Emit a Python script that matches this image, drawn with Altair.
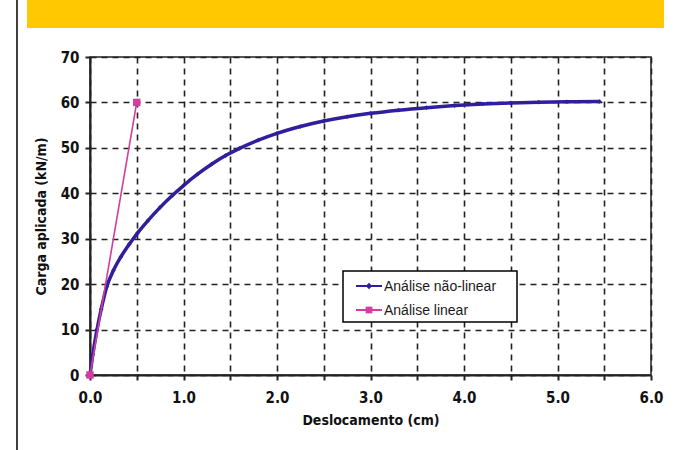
import altair as alt
import pandas as pd

# Non-linear analysis
nl_x = [0, 0.03, 0.075, 0.12, 0.18, 0.25, 0.33, 0.42, 0.51, 0.62, 0.75, 0.88, 1.00,
        1.15, 1.30, 1.45, 1.60, 1.80, 2.00, 2.25, 2.50, 2.75, 3.00, 3.30, 3.60,
        3.90, 4.20, 4.50, 4.80, 5.10, 5.45]
nl_y = [0, 4.5, 10, 14.5, 19.5, 23, 26, 28.8, 31.3, 34.0, 36.9, 39.5, 41.7,
        44.2, 46.4, 48.3, 49.9, 51.7, 53.2, 54.7, 55.9, 56.85, 57.6, 58.3, 58.85,
        59.3, 59.65, 59.9, 60.05, 60.15, 60.2]
# Linear analysis
lin_x = [0.0, 0.5]
lin_y = [0.0, 60.0]

series = ["Análise não-linear", "Análise linear"]
colors = ["#2f1f9c", "#d43c9f"]
x_ticks = [i * 0.5 for i in range(13)]
y_ticks = [i * 10 for i in range(8)]

FONT = "Liberation Sans Narrow, DejaVu Sans Condensed, sans-serif"

nl = pd.DataFrame({"x": nl_x, "y": nl_y})
lin = pd.DataFrame({"x": lin_x, "y": lin_y})

xs = alt.Scale(domain=[0, 6], nice=False)
ys = alt.Scale(domain=[0, 70], nice=False)

xaxis = alt.Axis(values=x_ticks, title="Deslocamento (cm)",
                 labelExpr="datum.value % 1 == 0 ? format(datum.value, '.1f') : ''")
yaxis = alt.Axis(values=y_ticks, title="Carga aplicada (kN/m)")

nl_line = alt.Chart(nl).mark_line(color=colors[0], strokeWidth=3.5, interpolate="monotone").encode(
    x=alt.X("x:Q", scale=xs, axis=xaxis),
    y=alt.Y("y:Q", scale=ys, axis=yaxis),
)
nl_pts = alt.Chart(nl).mark_point(shape="diamond", filled=True, color=colors[0], size=22, opacity=1).encode(
    x=alt.X("x:Q", scale=xs), y=alt.Y("y:Q", scale=ys))
lin_line = alt.Chart(lin).mark_line(color=colors[1], strokeWidth=1.6).encode(
    x=alt.X("x:Q", scale=xs), y=alt.Y("y:Q", scale=ys))
lin_pts = alt.Chart(lin).mark_point(shape="square", filled=True, color=colors[1], size=55, opacity=1).encode(
    x=alt.X("x:Q", scale=xs), y=alt.Y("y:Q", scale=ys))

one = pd.DataFrame({"a": [0]})

banner = alt.Chart(one).mark_rect(color="#ffc800").encode(
    x=alt.value(-63), x2=alt.value(574), y=alt.value(-57), y2=alt.value(-29))
frame = alt.Chart(one).mark_rule(color="#000", strokeWidth=1.5).encode(
    x=alt.value(-73), y=alt.value(-57), y2=alt.value(393))

leg_box = alt.Chart(one).mark_rect(fill="white", stroke="black", strokeWidth=1.5).encode(
    x=alt.value(253), x2=alt.value(427), y=alt.value(214), y2=alt.value(265))

leg_layers = []
row_y = [229, 253]
shapes = ["diamond", "square"]
sizes = [40, 45]
for i, name in enumerate(series):
    d = pd.DataFrame({"name": [name]})
    leg_layers.append(alt.Chart(d).mark_rule(color=colors[i], strokeWidth=2).encode(
        x=alt.value(266), x2=alt.value(292), y=alt.value(row_y[i])))
    leg_layers.append(alt.Chart(d).mark_point(shape=shapes[i], filled=True, color=colors[i],
                                              size=sizes[i], opacity=1).encode(
        x=alt.value(279), y=alt.value(row_y[i])))
    leg_layers.append(alt.Chart(d).mark_text(align="left", baseline="middle", font="Liberation Sans",
                                             fontSize=14, color="#1a1a1a").encode(
        x=alt.value(294), y=alt.value(row_y[i] + 1), text="name:N"))

chart = alt.layer(banner, frame, nl_line, nl_pts, lin_line, lin_pts, leg_box, *leg_layers).properties(
    width=561, height=318,
    autosize=alt.AutoSizeParams(type="none"),
    padding={"left": 90, "top": 57, "right": 25, "bottom": 75},
    background="white",
).configure_view(stroke="#222", strokeWidth=1.5).configure_axis(
    domainColor="#222", domainWidth=2, tickColor="#222", tickWidth=2, tickSize=5,
    grid=True, gridColor="#222", gridWidth=1.6, gridDash=[6, 5], gridOpacity=1,
    labelFont=FONT, labelFontWeight="bold", labelFontSize=15, labelColor="#111",
    titleFont=FONT, titleFontWeight="bold", titleFontSize=14, titleColor="#111",
).configure_axisX(labelPadding=10, titlePadding=8, labelFlush=False
).configure_axisY(labelPadding=6, titlePadding=12)

chart.save("out.html", embed_options={"renderer": "svg", "actions": False})
